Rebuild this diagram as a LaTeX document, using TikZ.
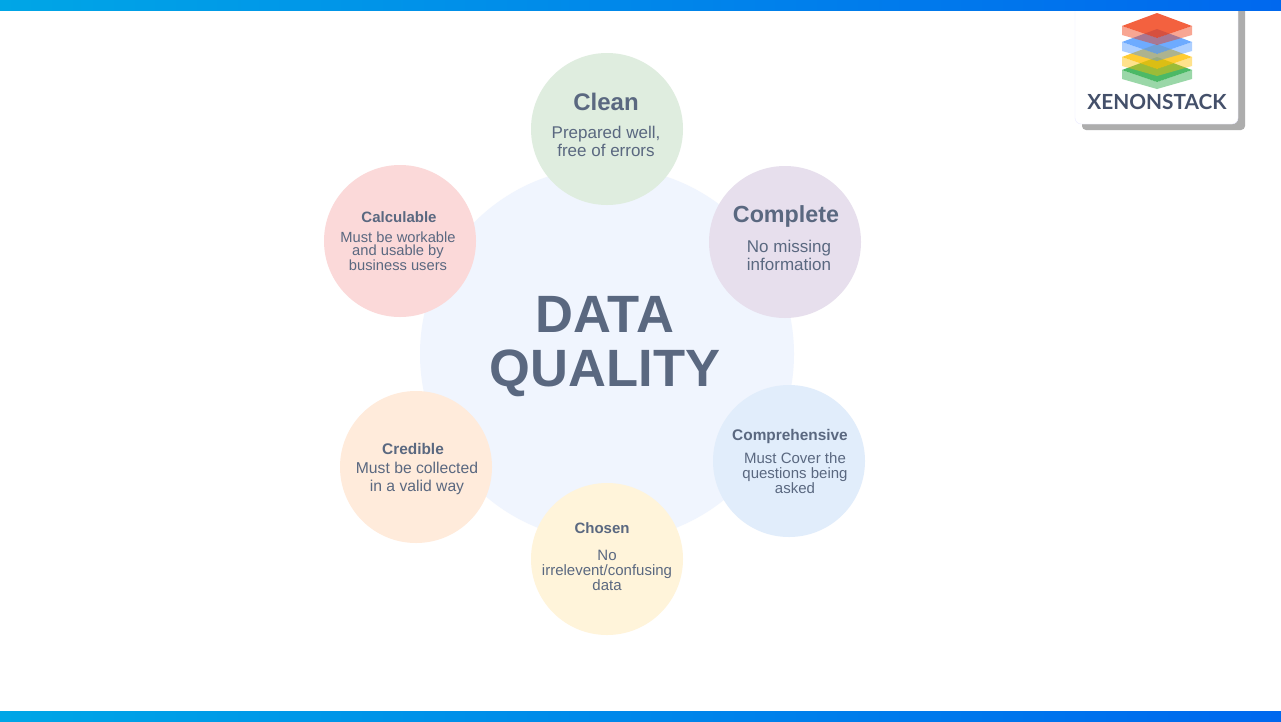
\documentclass[tikz,border=0pt]{standalone}
\usepackage{fontspec}
\setmainfont{Liberation Sans}
\newfontfamily\logofont{Lato}
\definecolor{inktext}{HTML}{5A6880}
\definecolor{logotext}{HTML}{44506A}
\definecolor{barleft}{HTML}{00A6E6}
\definecolor{barright}{HTML}{0068EE}
\definecolor{hubfill}{HTML}{F0F5FE}
\definecolor{cleanfill}{HTML}{DFEDDF}
\definecolor{completefill}{HTML}{E7DFED}
\definecolor{comprefill}{HTML}{E1EDFB}
\definecolor{chosenfill}{HTML}{FFF4DA}
\definecolor{crediblefill}{HTML}{FFEBDB}
\definecolor{calcfill}{HTML}{FBD9D9}
\definecolor{logored}{HTML}{F03A10}
\definecolor{logoblue}{HTML}{4A96FF}
\definecolor{logoyellow}{HTML}{FFC000}
\definecolor{logogreen}{HTML}{20A840}
\tikzset{
  ball/.style={circle,minimum size=#1,inner sep=0pt},
  head/.style={text=inktext,font=\bfseries\fontsize{#1}{#1}\selectfont,inner sep=0pt},
  body/.style n args={2}{text=inktext,align=center,inner sep=0pt,font=\fontsize{#1}{#2}\selectfont},
  skirt/.style={fill=#1,opacity=.45},
  face/.style={fill=#1,opacity=.8}
}
\newcommand{\logolayer}[2]{%
  \fill[skirt=#2] (1122,#1+13) -- (1157,#1+25) -- (1192,#1+13) -- (1192,#1+22) -- (1157,#1+32) -- (1122,#1+22) -- cycle;
  \fill[face=#2] (1157,#1) -- (1192,#1+13) -- (1157,#1+25) -- (1122,#1+13) -- cycle;}
\begin{document}
\begin{tikzpicture}[x=1pt,y=-1pt]
  \useasboundingbox (0,0) rectangle (1281,721);
  \fill[white] (0,0) rectangle (1281,721);
  % logo
  \fill[black!32,rounded corners=4pt] (1082,4) rectangle (1245,130);
  \fill[white,rounded corners=6pt,draw=blue!8] (1075,0) rectangle (1238,124);
  % bars
  \shade[left color=barleft,right color=barright] (0,0) rectangle (1281,10);
  \shade[left color=barleft,right color=barright] (0,711) rectangle (1281,721);
  \logolayer{57}{logogreen}
  \logolayer{44}{logoyellow}
  \logolayer{29}{logoblue}
  \logolayer{13}{logored}
  \node[text=logotext,font=\logofont\bfseries\fontsize{20.8}{20.8}\selectfont,inner sep=0pt] (xs) at (1157,102) {XENONSTACK};
  % circles
  \node[ball=374pt,fill=hubfill] (hub) at (607,354) {};
  \node[ball=152pt,fill=cleanfill] (clean) at (607,129) {};
  \node[ball=152pt,fill=completefill] (complete) at (785,242) {};
  \node[ball=152pt,fill=comprefill] (compre) at (789,461) {};
  \node[ball=152pt,fill=chosenfill] (chosen) at (607,559) {};
  \node[ball=152pt,fill=crediblefill] (credible) at (416,467) {};
  \node[ball=152pt,fill=calcfill] (calc) at (400,241) {};
  % text
  \node[text=inktext,align=center,inner sep=0pt,font=\bfseries\fontsize{52.5}{54}\selectfont] (title) at (605,347) {DATA\\QUALITY};
  \node[head=24] (cleanh) at (606,102) {Clean}; \node[body={17}{18}] (cleanb) at (606,141) {Prepared well,\\free of errors};
  \node[head=23.3] (completeh) at (786,216) {Complete}; \node[body={17}{18}] (completeb) at (789,255) {No missing\\information};
  \node[head=15.4] (compreh) at (790,437) {Comprehensive}; \node[body={15}{15}] (compreb) at (795,473) {Must Cover the\\questions being\\asked};
  \node[head=15] (chosenh) at (602,528) {Chosen}; \node[body={15}{15}] (chosenb) at (607,570) {No\\irrelevent/confusing\\data};
  \node[head=15.4] (credibleh) at (413,449) {Credible}; \node[body={15.7}{18}] (credibleb) at (417,478) {Must be collected\\in a valid way};
  \node[head=15] (calch) at (399,217) {Calculable}; \node[body={14.7}{13}] (calcb) at (398,251) {Must be workable\\and usable by\\business users};
\end{tikzpicture}
\end{document}
